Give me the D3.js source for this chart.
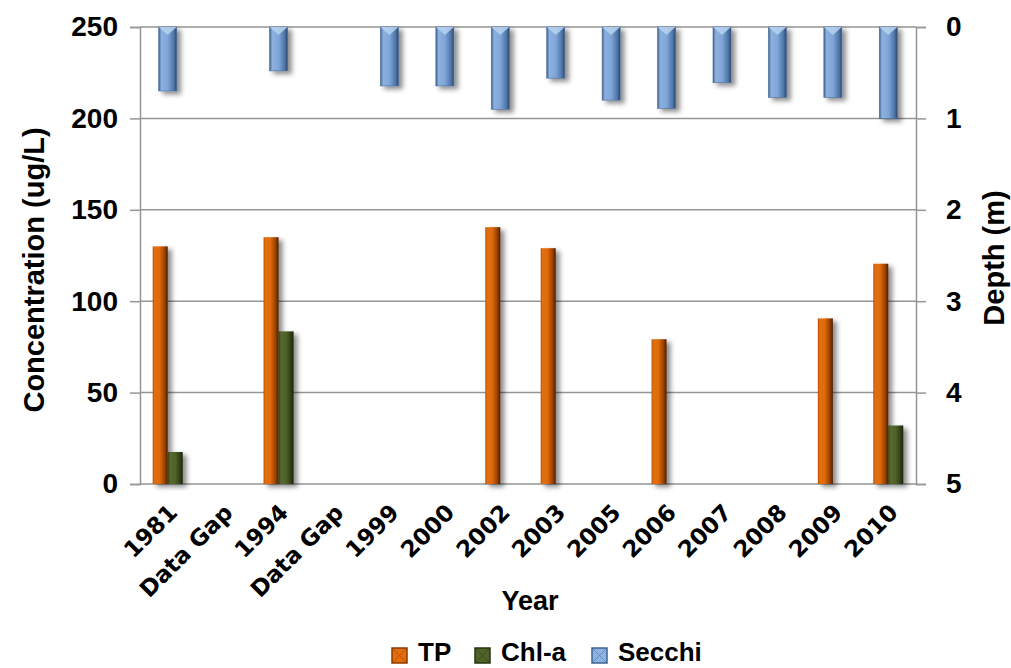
<!DOCTYPE html>
<html><head><meta charset="utf-8">
<script src="https://cdn.jsdelivr.net/npm/d3@7/dist/d3.min.js"></script>
<style>body{margin:0;background:#fff}svg{display:block}</style>
</head><body><svg id="c" width="1011" height="668"></svg>
<script>
const categories = ["1981","Data Gap","1994","Data Gap ","1999","2000","2002","2003","2005","2006","2007","2008","2009","2010"];
const tpValues    = [130, null, 135, null, null, null, 140.5, 129, null, 79.2, null, null, 90.6, 120.5];
const chlValues   = [17.5, null, 83.5, null, null, null, null, null, null, null, null, null, null, 32];
const secchiValues= [0.70, null, 0.48, null, 0.645, 0.645, 0.90, 0.56, 0.80, 0.89, 0.61, 0.77, 0.77, 1.0];
const leftTicks = [0,50,100,150,200,250];
const rightTicks = [0,1,2,3,4,5];
const legendItems = ["TP","Chl-a","Secchi"];

const svg = d3.select("#c");
const L = 140, R = 916, T = 27, B = 484;
const x = d3.scaleBand().domain(categories).range([L,R]);
const yL = d3.scaleLinear().domain([0,250]).range([B,T]);
const yR = d3.scaleLinear().domain([0,5]).range([T,B]);
const FONT = "'Liberation Sans Narrow','Liberation Sans',Arial,sans-serif";

const defs = svg.append("defs");
function grad(id, stops, vertical){
  const g = defs.append("linearGradient").attr("id",id).attr("x1","0").attr("x2",vertical?"0":"1").attr("y1","0").attr("y2",vertical?"1":"0");
  stops.forEach(s=>g.append("stop").attr("offset",s[0]).attr("stop-color",s[1]).attr("stop-opacity",s[2]==null?1:s[2]));
}
grad("gTP",[[0,"#b84d00"],[0.12,"#e0700f"],[0.45,"#e06a08"],[0.8,"#9a4000"],[1,"#4a1e00"]]);
grad("gChl",[[0,"#2f3c14"],[0.15,"#55692b"],[0.5,"#4f6228"],[0.85,"#2d3a12"],[1,"#1a2208"]]);
grad("gSec",[[0,"#3d5f8c"],[0.15,"#8db1df"],[0.5,"#7fa6d8"],[0.85,"#4d74a6"],[1,"#2b4468"]]);
const f = defs.append("filter").attr("id","sh").attr("x","-50%").attr("y","-10%").attr("width","220%").attr("height","130%");
f.append("feDropShadow").attr("dx",4).attr("dy",3).attr("stdDeviation",2.5).attr("flood-color","#000").attr("flood-opacity",0.45);

svg.append("g").selectAll("line").data(leftTicks).join("line")
  .attr("x1",L).attr("x2",R).attr("y1",d=>yL(d)).attr("y2",d=>yL(d))
  .attr("stroke","#959595").attr("stroke-width",1.5);

const gL = svg.append("g").attr("transform",`translate(${L},0)`)
  .call(d3.axisLeft(yL).tickValues(leftTicks).tickSize(10).tickPadding(12).tickFormat(d3.format("d")));
const gR = svg.append("g").attr("transform",`translate(${R},0)`)
  .call(d3.axisRight(yR).tickValues(rightTicks).tickSize(10).tickPadding(20).tickFormat(d3.format("d")));
[gL,gR].forEach(g=>{
  g.select(".domain").attr("stroke","#959595").attr("stroke-width",1.5);
  g.selectAll(".tick line").attr("stroke","#959595").attr("stroke-width",1.5);
  g.selectAll(".tick text").attr("fill","#000").style("font-family",FONT)
   .style("font-weight","bold").style("font-size","28px");
});

const bw = 15, sw = 18;
const bars = svg.append("g");
const secData = categories.map((c,i)=>({c,v:secchiValues[i]})).filter(d=>d.v!=null);
bars.selectAll(".sec").data(secData).join("rect")
  .attr("x",d=>x(d.c)+x.bandwidth()/2-sw/2).attr("width",sw)
  .attr("y",yR(0)).attr("height",d=>yR(d.v)-yR(0))
  .attr("fill","url(#gSec)").attr("stroke","#4a6c99").attr("stroke-width",0.6).attr("filter","url(#sh)");
bars.selectAll(".secHi").data(secData).join("path")
  .attr("d",d=>{const cx=x(d.c)+x.bandwidth()/2, y0=yR(0); return `M${cx-sw/2},${y0}L${cx+sw/2},${y0}L${cx},${y0+8}Z`;})
  .attr("fill","#b9d2f0").attr("opacity",0.85);
bars.selectAll(".tp").data(categories.map((c,i)=>({c,v:tpValues[i]})).filter(d=>d.v!=null)).join("rect")
  .attr("x",d=>x(d.c)+x.bandwidth()/2-bw).attr("width",bw)
  .attr("y",d=>yL(d.v)).attr("height",d=>yL(0)-yL(d.v))
  .attr("fill","url(#gTP)").attr("filter","url(#sh)");
bars.selectAll(".chl").data(categories.map((c,i)=>({c,v:chlValues[i]})).filter(d=>d.v!=null)).join("rect")
  .attr("x",d=>x(d.c)+x.bandwidth()/2).attr("width",bw)
  .attr("y",d=>yL(d.v)).attr("height",d=>yL(0)-yL(d.v))
  .attr("fill","url(#gChl)").attr("filter","url(#sh)");

svg.append("g").selectAll("text").data(categories).join("text")
  .attr("transform",d=>`translate(${x(d)+x.bandwidth()/2+11},${514}) rotate(-45)`)
  .attr("text-anchor","end")
  .style("font-family","'DejaVu Sans',Verdana,sans-serif").style("font-weight","bold").style("font-size","23px")
  .text(d=>d.trim());

svg.append("text").attr("x",530).attr("y",610).attr("text-anchor","middle")
  .style("font-family",FONT).style("font-weight","bold").style("font-size","27px").text("Year");
svg.append("text").attr("transform","translate(44,270) rotate(-90)").attr("text-anchor","middle")
  .style("font-family",FONT).style("font-weight","bold").style("font-size","29px").text("Concentration (ug/L)");
svg.append("text").attr("transform","translate(1004,258) rotate(-90)").attr("text-anchor","middle")
  .style("font-family",FONT).style("font-weight","bold").style("font-size","29px").text("Depth (m)");

const legX = [392,475,592], legC = ["#e46c0a","#4f6228","#8db3e2"], legE = ["#8a3b00","#2a3510","#3f6390"];
const lg = svg.append("g");
legendItems.forEach((t,i)=>{
  lg.append("rect").attr("x",legX[i]).attr("y",648).attr("width",15).attr("height",15)
    .attr("fill",legC[i]).attr("stroke",legE[i]).attr("stroke-width",1.5);
  lg.append("path").attr("d",`M${legX[i]},${648}L${legX[i]+15},${663}M${legX[i]+15},${648}L${legX[i]},${663}`)
    .attr("stroke",legE[i]).attr("stroke-width",0.8).attr("opacity",0.6);
  lg.append("text").attr("x",legX[i]+26).attr("y",661)
    .style("font-family",FONT).style("font-size","26px").style("font-weight","bold").text(t);
});
</script></body></html>
